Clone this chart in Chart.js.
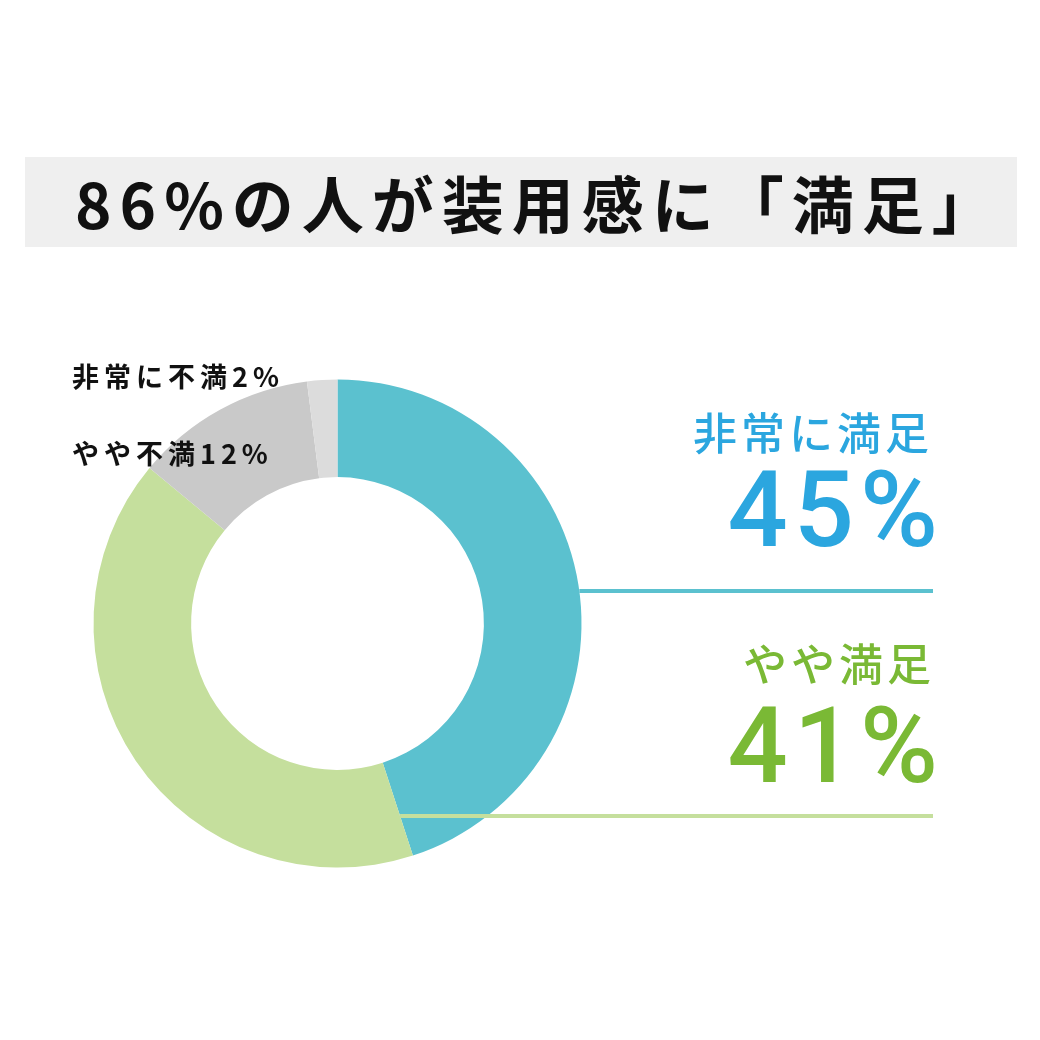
<!DOCTYPE html>
<html lang="ja">
<head>
<meta charset="utf-8">
<script src="https://cdn.jsdelivr.net/npm/chart.js@4/dist/chart.umd.min.js"></script>
<style>
  html, body { margin: 0; padding: 0; background: #fff; }
  #page { position: relative; width: 1040px; height: 1040px; overflow: hidden; }
  #title {
    position: absolute; left: 25px; top: 157px; width: 992px; height: 90px;
    background: #efefef; box-sizing: border-box; padding-left: 50px;
    font-family: "Noto Sans CJK JP", "Noto Sans", sans-serif; font-weight: 700;
    font-size: 62px; line-height: 90px; letter-spacing: 8px; color: #111; white-space: nowrap;
  }
  #satisfactionChart { position: absolute; left: 0; top: 0; }
</style>
</head>
<body>
<div id="page">
  <div id="title">86%の人が装用感に「満足」</div>
  <canvas id="satisfactionChart" width="1040" height="1040"></canvas>
</div>
<script>
// survey answers, clockwise from 12 o'clock
const categories = ["非常に満足", "やや満足", "やや不満", "非常に不満"];
const shares = [45, 41, 12, 2];
const sliceColors = ["#5bc1cf", "#c5df9d", "#c9c9c9", "#dcdcdc"];

document.addEventListener("DOMContentLoaded", function () {
    const canvas = document.getElementById("satisfactionChart");
    const ctx = canvas.getContext("2d");
    const jpFont = '"Noto Sans CJK JP", "Noto Sans", sans-serif';

    function drawText(c, text, x, y, font, color, align, spacing) {
        c.save();
        c.font = font;
        c.fillStyle = color;
        c.textBaseline = "middle";
        c.letterSpacing = spacing + "px";
        let w = c.measureText(text).width;
        // right alignment: ignore the trailing letter gap
        let startX = align === "right" ? x - w + spacing : x;
        c.textAlign = "left";
        c.fillText(text, startX, y);
        c.restore();
    }

    // leader lines and labels around the ring
    const calloutPlugin = {
        id: "callouts",
        afterDatasetsDraw(chart) {
            const c = chart.ctx;
            const arcs = chart.getDatasetMeta(0).data;
            const cx = arcs[0].x, cy = arcs[0].y, R = arcs[0].outerRadius;

            // top line: from the outer edge of the first slice
            const y1 = 591;
            const x1 = cx + Math.sqrt(R * R - (y1 - cy) * (y1 - cy));
            // bottom line: from the border between the first two slices
            const y2 = 816;
            const a = arcs[0].endAngle;
            const x2 = cx + (y2 - cy) * Math.cos(a) / Math.sin(a);

            c.save();
            c.lineWidth = 4;
            c.strokeStyle = sliceColors[0];
            c.beginPath(); c.moveTo(x1, y1); c.lineTo(933, y1); c.stroke();
            c.strokeStyle = sliceColors[1];
            c.beginPath(); c.moveTo(x2, y2); c.lineTo(933, y2); c.stroke();
            c.restore();

            // right side: the two "satisfied" answers
            drawText(c, categories[0], 929, 433, "500 44px " + jpFont, "#2ba6df", "right", 4);
            drawText(c, shares[0] + "%", 938, 519, "500 106px Roboto, sans-serif", "#2ba6df", "right", 6);
            drawText(c, categories[1], 931, 664, "500 44px " + jpFont, "#7ab935", "right", 4);
            drawText(c, shares[1] + "%", 938, 755, "500 106px Roboto, sans-serif", "#7ab935", "right", 6);

            // left side: the two "unsatisfied" answers
            drawText(c, categories[3] + shares[3] + "%", 72, 377, "700 27px " + jpFont, "#111", "left", 5);
            drawText(c, categories[2] + shares[2] + "%", 72, 454, "700 27px " + jpFont, "#111", "left", 5);
        }
    };

    new Chart(ctx, {
        type: "doughnut",
        data: {
            labels: categories,
            datasets: [
                {
                    data: shares,
                    backgroundColor: sliceColors,
                    borderWidth: 0,
                    hoverOffset: 0,
                },
            ],
        },
        options: {
            responsive: false,
            animation: false,
            cutout: "60%",
            layout: {
                padding: { left: 93.5, right: 458.5, top: 379.5, bottom: 172.5 },
            },
            plugins: {
                legend: { display: false },
                tooltip: { enabled: false },
            },
        },
        plugins: [calloutPlugin],
    });
});
</script>
</body>
</html>
